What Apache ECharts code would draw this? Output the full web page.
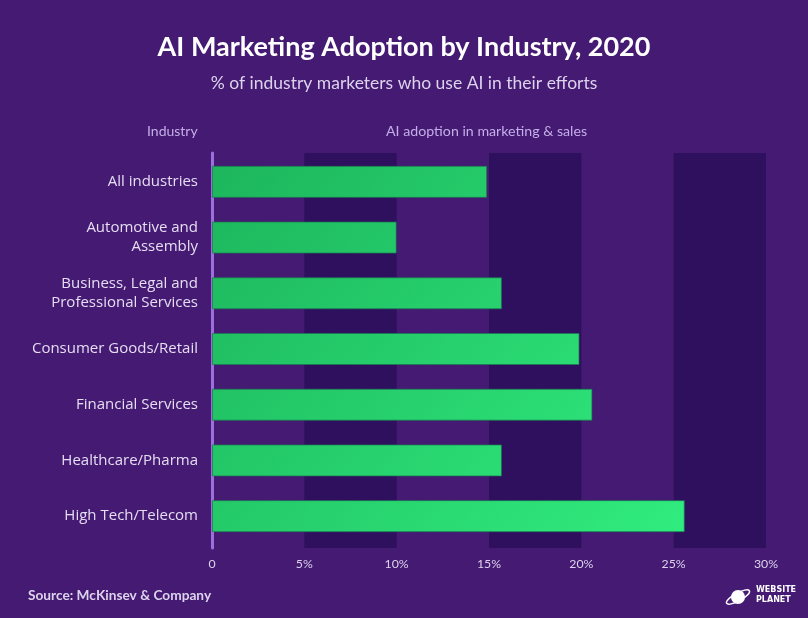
<!DOCTYPE html>
<html><head><meta charset="utf-8">
<script src="https://cdn.jsdelivr.net/npm/echarts@6/dist/echarts.min.js"></script>
<style>html,body{margin:0;padding:0;background:#441a73;}#c{width:808px;height:618px;}</style>
</head><body><div id="c"></div>
<script>
const categories = ["All industries","Automotive and\nAssembly","Business, Legal and\nProfessional Services","Consumer Goods/Retail","Financial Services","Healthcare/Pharma","High Tech/Telecom"];
const values = [14.9, 10, 15.7, 19.9, 20.6, 15.7, 25.6];
const tickLabels = ["0","5%","10%","15%","20%","25%","30%"];
const bandRanges = [[5,10],[15,20],[25,30]];

(function(){
const chart = echarts.init(document.getElementById('c'), null, {renderer:'canvas'});
chart.setOption({
  backgroundColor:'#441a73',
  animation:false,
  title:[
    {text:'AI Marketing Adoption by Industry, 2020', left:'center', top:29,
     textStyle:{color:'#ffffff', fontFamily:'Lato', fontWeight:'bold', fontSize:27}},
    {text:'% of industry marketers who use AI in their efforts', left:'center', top:69,
     textStyle:{color:'#ddd3ec', fontFamily:'Lato', fontWeight:'normal', fontSize:17.5}}
  ],
  graphic:[
    {type:'text', left:147, top:124, style:{text:'Industry', fill:'#c5aee8', font:'14px Lato'}},
    {type:'text', left:386, top:124, style:{text:'AI adoption in marketing & sales', fill:'#c5aee8', font:'14.2px Lato'}},
    {type:'text', left:28, top:589, style:{text:'Source: McKinsev & Company', fill:'#ddd3ec', font:'bold 13.7px Lato'}},
    {type:'text', left:756, top:585, style:{text:'WEBSITE\nPLANET', fill:'#ffffff', font:'bold 8px "DejaVu Sans"', lineHeight:10}},
    {type:'circle', shape:{cx:738, cy:597, r:7}, style:{fill:'#ffffff'}},
    {type:'ellipse', shape:{cx:738, cy:597, rx:13, ry:4}, rotation:0.5, originX:738, originY:597, style:{fill:'none', stroke:'#ffffff', lineWidth:1.5}}
  ],
  grid:[
    {left:212, right:42, top:153, bottom:70, containLabel:false},
    {left:212, right:42, top:154, bottom:74, containLabel:false}
  ],
  xAxis:[
    {type:'value', gridIndex:0, min:0, max:30, interval:5,
    axisLine:{show:false}, axisTick:{show:false},
    splitLine:{show:false},
    axisLabel:{color:'#ddd3ec', fontFamily:'Lato', fontSize:12.3, margin:10,
      formatter:(v)=>tickLabels[Math.round(v/5)]}},
    {type:'value', gridIndex:1, min:0, max:30, interval:5, show:false}
  ],
  yAxis:[
    {type:'category', gridIndex:0, data:categories, inverse:true,
    axisLine:{show:true, lineStyle:{color:'#9d6fdc', width:3}},
    axisTick:{show:false}, axisLabel:{show:false}},
    {type:'category', gridIndex:1, data:categories, inverse:true,
    axisLine:{show:false}, axisTick:{show:false},
    axisLabel:{color:'#e6ddf2', fontFamily:'"Open Sans"', fontSize:15, lineHeight:19, margin:14}}
  ],
  series:[
    {type:'bar', xAxisIndex:0, yAxisIndex:0, data:[], z:1,
     markArea:{silent:true, itemStyle:{color:'#2f105e'},
       data: bandRanges.map(r=>[{xAxis:r[0]},{xAxis:r[1]}])}},
    {type:'bar', xAxisIndex:1, yAxisIndex:1, data:values, barWidth:32, z:3,
     itemStyle:{color:new echarts.graphic.LinearGradient(212,153,700,548,[
       {offset:0,color:'#1db55c'},{offset:1,color:'#31ee7f'}], true),
       borderColor:'rgba(25,120,80,0.7)', borderWidth:1}}
  ]
});
})();
</script></body></html>
